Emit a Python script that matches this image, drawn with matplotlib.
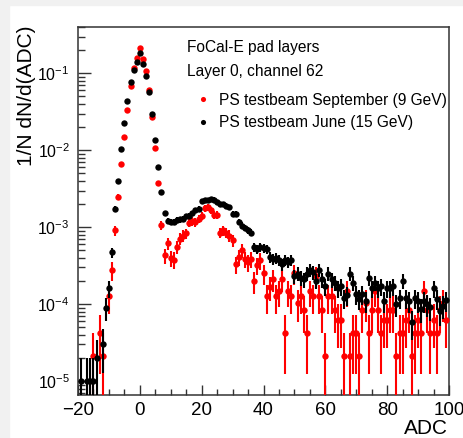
import numpy as np
import matplotlib
matplotlib.use("Agg")
import matplotlib.pyplot as plt
from matplotlib.patches import Rectangle
from matplotlib.ticker import FixedLocator, LogLocator, NullFormatter

plt.rcParams['font.family'] = ['Liberation Sans', 'DejaVu Sans']
plt.rcParams['mathtext.fontset'] = 'custom'
plt.rcParams['mathtext.rm'] = 'Liberation Sans'
plt.rcParams['mathtext.it'] = 'Liberation Sans:italic'

# --- data (1/N dN/d(ADC), one ADC bin per point) ---
# September, 9 GeV (red)
sep_adc = [-15, -13, -12, -10, -9, -8, -7, -6, -5, -4, -3, -2, -1, 0, 1, 2, 3, 4, 5, 6, 7,
           8, 9, 10, 11, 12, 13, 14, 15, 16, 17, 18, 19, 20, 21, 22, 23, 24, 25,
           26, 27, 28, 29, 30, 31, 32, 33, 34, 35, 36, 37, 38, 39, 40,
           41, 42, 43, 44, 45, 46, 47, 48, 49, 50, 51, 52, 53, 54, 55, 56, 57, 58, 59, 60,
           61, 62, 63, 64, 65, 66, 67, 68, 69, 70, 71, 72, 73, 74, 75, 76, 77, 78, 79, 80,
           81, 82, 83, 84, 85, 86, 87, 88, 89, 90, 91, 92, 93, 94, 95, 96, 97, 98, 99]
sep_val = [2.1e-5, 4.2e-5, 2.1e-5, 1.26e-4, 2.75e-4, 9.1e-4, 2.5e-3, 6.6e-3, 0.0151, 0.0335,
           0.068, 0.117, 0.158, 0.211, 0.153, 0.108, 0.060, 0.027, 0.0107, 3.7e-3, 1.07e-3,
           4.3e-4, 6.2e-4, 4.0e-4, 3.8e-4, 5.6e-4, 7.1e-4, 7.8e-4, 8.3e-4, 1.15e-3, 1.2e-3,
           1.17e-3, 1.29e-3, 1.41e-3, 1.78e-3, 1.82e-3, 1.66e-3, 1.45e-3, 1.45e-3,
           8.5e-4, 9.1e-4, 8.5e-4, 7.8e-4, 6.8e-4, 3.3e-4, 4.1e-4, 5.0e-4, 3.9e-4, 3.5e-4,
           3.9e-4, 2.0e-4, 3.2e-4, 3.7e-4, 2.52e-4,
           1.26e-4, 1.68e-4, 2.1e-4, 1.26e-4, 1.47e-4, 2.1e-4, 4.2e-5, 1.47e-4, 1.26e-4, 2.52e-4,
           1.05e-4, 1.26e-4, 8.4e-5, 4.2e-5, 1.47e-4, 1.26e-4, 2.31e-4, 1.26e-4, 8.4e-5, 2.1e-5,
           1.26e-4, 1.26e-4, 8.4e-5, 6.3e-5, 6.3e-5, 2.1e-5, 1.47e-4, 2.1e-5, 4.2e-5, 4.2e-5,
           2.1e-5, 8.4e-5, 1.05e-4, 4.2e-5, 8.4e-5, 1.47e-4, 8.4e-5, 4.2e-5, 6.3e-5, 6.3e-5,
           8.4e-5, 8.4e-5, 2.1e-5, 4.2e-5, 4.2e-5, 6.3e-5, 8.4e-5, 2.1e-5, 4.2e-5, 6.3e-5,
           4.2e-5, 1.47e-4, 8.4e-5, 4.2e-5, 6.3e-5, 4.2e-5, 8.4e-5, 1.05e-4, 6.3e-5]
sep_norm = 1 / 2.1e-5   # one entry = lowest red level

# June, 15 GeV (black)
jun_adc = [-19, -17, -16, -15, -14, -12, -11, -10, -9, -8, -7, -6, -5, -4, -3, -2, -1, 0, 1,
           2, 3, 4, 5, 6, 7, 8, 9, 10, 11, 12, 13, 14, 15, 16, 17, 18, 19, 20,
           21, 22, 23, 24, 25, 26, 27, 28, 29, 30, 31, 32, 33, 34, 35, 36, 37, 38, 39, 40,
           41, 42, 43, 44, 45, 46, 47, 48, 49, 50, 51, 52, 53, 54, 55, 56, 57, 58, 59, 60,
           61, 62, 63, 64, 65, 66, 67, 68, 69, 70, 71, 72, 73, 74, 75, 76, 77, 78, 79, 80,
           81, 82, 83, 84, 85, 86, 87, 88, 89, 90, 91, 92, 93, 94, 95, 96, 97, 98, 99]
jun_val = [1e-5, 1e-5, 1e-5, 1e-5, 2e-5, 3e-5, 9e-5, 1.6e-4, 4.7e-4, 1.74e-3, 4.0e-3, 0.0105,
           0.0227, 0.044, 0.076, 0.111, 0.142, 0.182, 0.132,
           0.093, 0.058, 0.030, 0.0134, 6.0e-3, 2.9e-3, 1.51e-3, 1.20e-3, 1.17e-3, 1.17e-3,
           1.23e-3, 1.26e-3, 1.29e-3, 1.38e-3, 1.41e-3, 1.51e-3, 1.66e-3, 1.74e-3, 2.19e-3,
           2.24e-3, 2.24e-3, 2.34e-3, 2.29e-3, 2.14e-3, 2.0e-3, 2.0e-3, 1.91e-3, 1.82e-3,
           1.48e-3, 1.48e-3, 1.17e-3, 1.05e-3, 9.8e-4, 9.1e-4, 8.5e-4, 5.5e-4, 5.2e-4, 5.5e-4,
           5.4e-4, 5.2e-4, 4.1e-4, 3.9e-4, 4.0e-4, 3.7e-4, 3.3e-4, 3.7e-4, 3.5e-4, 3.7e-4,
           2.3e-4, 2.5e-4, 2.2e-4, 2.1e-4, 2.5e-4, 2.8e-4, 2.6e-4, 2.0e-4, 2.8e-4, 2.1e-4,
           1.7e-4, 2.5e-4, 2.1e-4, 1.9e-4, 1.6e-4, 1.7e-4, 1.2e-4, 1.3e-4, 2.5e-4, 1.9e-4,
           1.35e-4, 1.17e-4, 1.35e-4, 1.1e-4, 2.2e-4, 1.6e-4, 1.9e-4, 1.6e-4, 1.7e-4, 1.1e-4,
           1.6e-4, 1.6e-4, 1.7e-4, 1.0e-4, 1.2e-4, 2.0e-4, 1.2e-4, 1.1e-4, 5.8e-5, 1.2e-4,
           1.1e-4, 8.7e-5, 1.1e-4, 1.0e-4, 9.1e-5, 1.6e-4, 1.17e-4, 8.1e-5, 9.5e-5, 1.12e-4]
jun_norm = 1e5

labels = ['PS testbeam September (9 GeV)', 'PS testbeam June (15 GeV)']


def poisson_err(val, norm):
    val = np.asarray(val)
    err = np.sqrt(val / norm)
    lo = np.minimum(err, val * 0.9999)
    return np.vstack([lo, err])


W, H = 463, 438
fig = plt.figure(figsize=(W / 100, H / 100), dpi=100, facecolor='white')
# light grey page margin on the left/top like the screenshot
fig.add_artist(Rectangle((0, 0), 9 / W, 1, transform=fig.transFigure, color='#f1f1f1', zorder=-5))
fig.add_artist(Rectangle((0, 1 - 5 / H), 1, 5 / H, transform=fig.transFigure, color='#f1f1f1', zorder=-5))

ax = fig.add_axes([78 / W, 1 - 395 / H, 371 / W, 368 / H])

eb_sep = ax.errorbar(sep_adc, sep_val, yerr=poisson_err(sep_val, sep_norm), fmt='o', color='#ff0000',
                     ms=4.6, elinewidth=1.5, capsize=0, mew=0, zorder=3)
eb_jun = ax.errorbar(jun_adc, jun_val, yerr=poisson_err(jun_val, jun_norm), fmt='o', color='black',
                     ms=4.6, elinewidth=1.5, capsize=0, mew=0, zorder=4)

ax.set_yscale('log')
ax.set_xlim(-20, 100)
ax.set_ylim(6.6e-6, 0.4)

ax.xaxis.set_major_locator(FixedLocator(np.arange(-20, 101, 20)))
ax.xaxis.set_minor_locator(FixedLocator(np.arange(-20, 101, 5)))
ax.yaxis.set_major_locator(LogLocator(base=10, numticks=10))
ax.yaxis.set_minor_locator(LogLocator(base=10, subs=np.arange(2, 10), numticks=10))
ax.yaxis.set_minor_formatter(NullFormatter())

ax.tick_params(axis='both', which='both', direction='in', top=False, right=False,
               width=1.0, color='#333333')
ax.tick_params(axis='x', labelsize=13.5)
ax.tick_params(axis='y', labelsize=11.5)
ax.tick_params(axis='y', which='major', length=9, pad=6)
ax.tick_params(axis='y', which='minor', length=5)
ax.tick_params(axis='x', which='major', length=7, pad=5)
ax.tick_params(axis='x', which='minor', length=4)
for s in ax.spines.values():
    s.set_linewidth(1.1)
    s.set_color('#333333')

fig.text(27 / W, 1 - 26 / H, '1/N dN/d(ADC)', rotation=90, ha='center', va='top', fontsize=15)
fig.text(448 / W, 1 - 428 / H, 'ADC', ha='right', va='center', fontsize=15)

ax.text(0.293, 0.943, 'FoCal-E pad layers', transform=ax.transAxes, fontsize=11.2, va='center')
ax.text(0.293, 0.878, 'Layer 0, channel 62', transform=ax.transAxes, fontsize=11.2, va='center')

ax.legend([eb_sep[0], eb_jun[0]], labels, loc='upper left', bbox_to_anchor=(0.316, 0.822),
          frameon=False, fontsize=11.2, handlelength=1.0, handletextpad=0.55,
          labelspacing=0.5, borderpad=0, borderaxespad=0, numpoints=1, markerscale=0.8)

fig.savefig('out.png', dpi=100, facecolor=fig.get_facecolor())
